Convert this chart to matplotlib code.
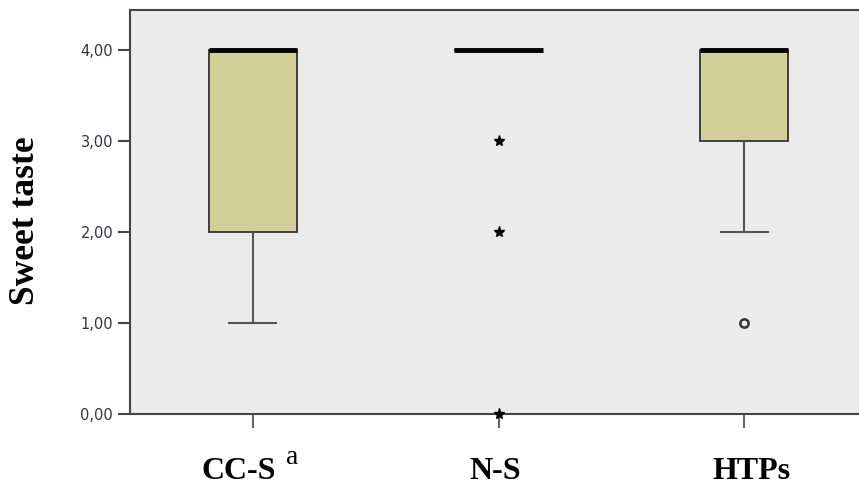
import matplotlib
matplotlib.use("Agg")
import matplotlib.pyplot as plt
from matplotlib.transforms import offset_copy

categories = ["CC-S", "N-S", "HTPs"]
q1 = [2.0, 4.0, 3.0]
med = [4.0, 4.0, 4.0]
q3 = [4.0, 4.0, 4.0]
whislo = [1.0, 4.0, 2.0]
whishi = [4.0, 4.0, 4.0]
outliers_circle = [[], [], [1.0]]
outliers_star = [[], [3.0, 2.0, 0.0], []]
yticks = [0, 1, 2, 3, 4]
ytick_labels = ["0,00", "1,00", "2,00", "3,00", "4,00"]

fig = plt.figure(figsize=(8.59, 4.86), dpi=100)
ax = fig.add_axes([130/859, 72/486, 737/859, 404/486])
ax.set_facecolor("#EBEBEB")

stats = []
for i in range(3):
    stats.append(dict(med=med[i], q1=q1[i], q3=q3[i], whislo=whislo[i], whishi=whishi[i], fliers=[]))
pos = list(range(3))
ax.bxp(stats, positions=pos, widths=0.36, patch_artist=True, showfliers=False,
       boxprops=dict(facecolor="#D3CF98", edgecolor="#333333", linewidth=1.3),
       medianprops=dict(color="black", linewidth=3.5, solid_capstyle="butt"),
       whiskerprops=dict(color="#555555", linewidth=1.5),
       capprops=dict(color="#555555", linewidth=1.5),
       capwidths=0.19)

for i in range(3):
    if outliers_circle[i]:
        ax.plot([pos[i]]*len(outliers_circle[i]), outliers_circle[i], "o", ms=6,
                mfc="none", mec="#333333", mew=1.8, clip_on=False, zorder=5)
    if outliers_star[i]:
        ax.plot([pos[i]]*len(outliers_star[i]), outliers_star[i], "*", ms=8,
                color="black", clip_on=False, zorder=5)

ax.set_xlim(-0.5, 2.5)
ax.set_ylim(0, 4.44)
ax.set_yticks(yticks)
ax.set_yticklabels(ytick_labels, fontsize=10.5, color="#333344", family="DejaVu Sans")
ax.set_xticks(pos)
ax.set_xticklabels(["", "", ""])
ax.tick_params(axis="y", length=8.6, width=1.5, color="#444444", pad=3.5)
ax.tick_params(axis="x", length=10, width=1.5, color="#666666")
for s in ["left", "bottom", "top", "right"]:
    ax.spines[s].set_color("#444444")
    ax.spines[s].set_linewidth(1.5)

fig.text(25/859, 1 - 221/486, "Sweet taste", rotation=90, ha="center", va="center",
         fontsize=25.5, fontweight="bold", family="Liberation Serif", color="black")

# category labels
label_dx = [-14.5, -3, 7]
for i, c in enumerate(categories):
    t = offset_copy(ax.get_xaxis_transform(), fig=fig, x=label_dx[i]*0.72, y=-41.5, units="points")
    ax.text(pos[i], 0, c, transform=t, ha="center", va="center", fontsize=23,
            fontweight="bold", family="Liberation Serif", color="black")
ta = offset_copy(ax.get_xaxis_transform(), fig=fig, x=39*0.72, y=-31.5, units="points")
ax.text(pos[0], 0, "a", transform=ta, ha="center", va="center", fontsize=20,
        family="Liberation Serif", color="black")

fig.savefig("out.png", dpi=100)
